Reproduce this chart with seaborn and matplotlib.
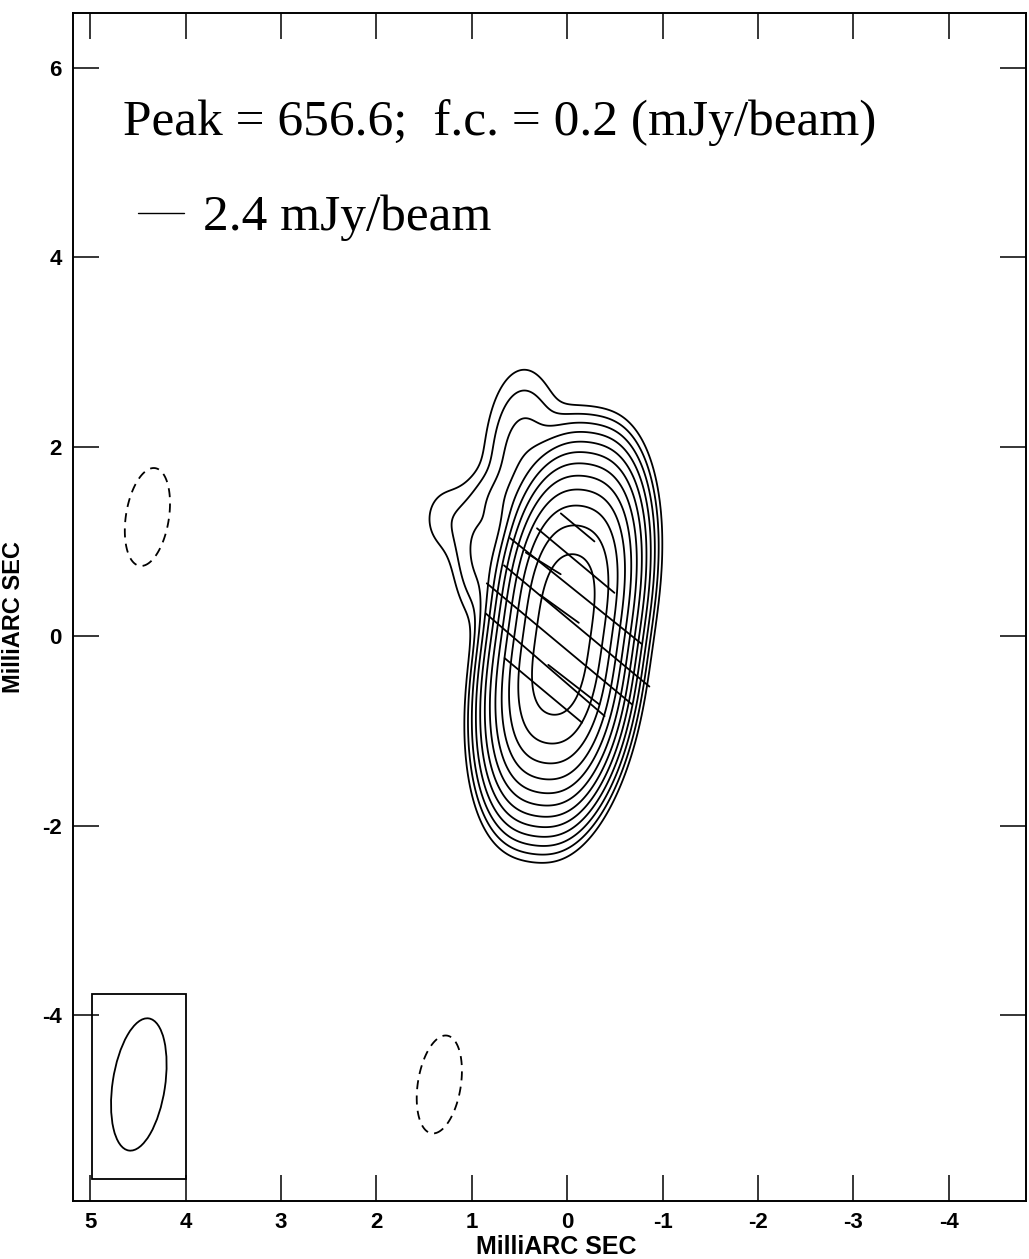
import numpy as np
import pandas as pd
import matplotlib
matplotlib.use("Agg")
import matplotlib.pyplot as plt
from matplotlib.patches import Ellipse, Rectangle
import seaborn as sns

# ---------------- data ----------------
peak_label = "Peak = 656.6;  f.c. = 0.2 (mJy/beam)"
vector_label = "2.4 mJy/beam"
axis_label = "MilliARC SEC"

first_contour = 0.2                      # mJy/beam
contour_multipliers = [-1, 1, 2, 4, 8, 16, 32, 64, 128, 256, 512, 1024, 2048]

# Gaussian brightness components (x = RA offset, y = Dec offset, mas; mJy/beam)
comp_x    = [0.132, -0.185, 0.265, -0.052, 0.45, 0.92, 1.26, 0.70, 4.40, 1.34]
comp_y    = [0.518, 0.473, -0.433, -0.478, 1.75, 0.85, 1.24, 1.45, 1.26, -4.73]
comp_amp  = [365.3, 365.3, 365.3, 365.3, 1.3, 0.85, 0.30, 0.42, -0.3, -0.3]
comp_smaj = [0.49, 0.49, 0.49, 0.49, 0.55, 0.38, 0.28, 0.18, 0.58, 0.58]
comp_smin = [0.20, 0.20, 0.20, 0.20, 0.22, 0.16, 0.20, 0.18, 0.25, 0.25]
comp_pa   = [-8, -8, -8, -8, 0, 0, 0, 0, -9, -9]

# polarization (EVPA) vectors: centre, length (mas), position angle (deg)
pol_x    = [-0.11, -0.09, -0.09, 0.25, 0.08, -0.10, 0.08, 0.23, 0.25, -0.07]
pol_y    = [1.15, 0.80, 0.48, 0.77, 0.29, 0.11, -0.08, -0.30, -0.57, -0.51]
pol_len  = [0.46, 1.06, 1.77, 0.43, 0.50, 1.99, 1.99, 1.65, 1.06, 0.68]
pol_evpa = [50, 50, 51, 58, 54, 50, 50, 49, 50, 52]

# scale bar of the vectors
scale_x, scale_y, scale_len = 4.50, 4.47, 0.48

# restoring beam
beam_x, beam_y = 4.49, -4.73
beam_maj, beam_min, beam_pa = 1.41, 0.55, -8.5
beam_box = (4.0, -5.73, 0.98, 1.96)     # x0, y0, width, height

x_ticks = [5, 4, 3, 2, 1, 0, -1, -2, -3, -4]
y_ticks = [-4, -2, 0, 2, 4, 6]
x_limits = (5.18, -4.81)
y_limits = (-5.96, 6.58)

# ---------------- style ----------------
sns.set_theme(style="white")
plt.rcParams["font.family"] = ["Liberation Sans", "DejaVu Sans"]
plt.rcParams["axes.unicode_minus"] = False
plt.rcParams["text.color"] = "black"
plt.rcParams["axes.labelcolor"] = "black"
plt.rcParams["xtick.color"] = "black"
plt.rcParams["ytick.color"] = "black"

fig = plt.figure(figsize=(10.29, 12.59), dpi=100)
ax = fig.add_axes([73 / 1029, 58 / 1259, 953 / 1029, 1188 / 1259])

# ---------------- map ----------------
gx = np.linspace(x_limits[1], x_limits[0], 900)
gy = np.linspace(y_limits[0], y_limits[1], 1100)
X, Y = np.meshgrid(gx, gy)
Z = np.zeros_like(X)
for x0, y0, a, sj, sn, pa in zip(comp_x, comp_y, comp_amp, comp_smaj, comp_smin, comp_pa):
    t = np.deg2rad(pa)
    dx, dy = X - x0, Y - y0
    v = dx * np.sin(t) + dy * np.cos(t)
    u = dx * np.cos(t) - dy * np.sin(t)
    Z += a * np.exp(-0.5 * (u / sn) ** 2 - 0.5 * (v / sj) ** 2)

levels = [first_contour * m for m in contour_multipliers]
styles = [(0, (5, 3.5)) if lv < 0 else "solid" for lv in levels]
ax.contour(X, Y, Z, levels=levels, colors="black", linewidths=1.3,
           linestyles=styles)

# ---------------- polarization vectors ----------------
rows = []
for i, (cx, cy, L, pa) in enumerate(zip(pol_x, pol_y, pol_len, pol_evpa)):
    t = np.deg2rad(pa)
    ex, ey = 0.5 * L * np.sin(t), 0.5 * L * np.cos(t)
    rows.append({"seg": i, "order": 0, "x": cx + ex, "y": cy + ey})
    rows.append({"seg": i, "order": 1, "x": cx - ex, "y": cy - ey})
vec_df = pd.DataFrame(rows)
sns.lineplot(data=vec_df, x="x", y="y", units="seg", estimator=None, sort=False,
             color="black", linewidth=1.3, ax=ax, legend=False)

# scale bar + labels
ax.plot([scale_x, scale_x - scale_len], [scale_y, scale_y], color="black", lw=1.0)
ax.text(3.82, 4.29, vector_label, fontsize=37, family=["Liberation Serif"],
        color="black", ha="left", va="baseline")
ax.text(4.66, 5.29, peak_label, fontsize=37, family=["Liberation Serif"],
        color="black", ha="left", va="baseline")

# beam
bx0, by0, bw, bh = beam_box
ax.add_patch(Rectangle((bx0, by0), bw, bh, fill=False, edgecolor="black", lw=1.3))
ax.add_patch(Ellipse((beam_x, beam_y), width=beam_min, height=beam_maj,
                     angle=-beam_pa, fill=False, edgecolor="black", lw=1.3))

# ---------------- axes ----------------
ax.set_xlim(*x_limits)
ax.set_ylim(*y_limits)
ax.set_xticks(x_ticks)
ax.set_yticks(y_ticks)
ax.set_xticklabels([str(t) for t in x_ticks])
ax.set_yticklabels([str(t) for t in y_ticks])
ax.tick_params(direction="in", length=18.5, width=1.1, top=True, right=True,
               bottom=True, left=True, pad=8, labelsize=16, colors="black")
for lab in ax.get_xticklabels() + ax.get_yticklabels():
    lab.set_fontweight("bold")
for sp in ax.spines.values():
    sp.set_color("black")
    sp.set_linewidth(1.4)
ax.set_xlabel(axis_label, fontsize=18, fontweight="bold", color="black")
ax.set_ylabel(axis_label, fontsize=17, fontweight="bold", color="black")
ax.xaxis.set_label_coords(0.507, -0.0285)
ax.yaxis.set_label_coords(-0.050, 0.4916)
ax.grid(False)

fig.savefig("out.png", dpi=100, facecolor="white")
